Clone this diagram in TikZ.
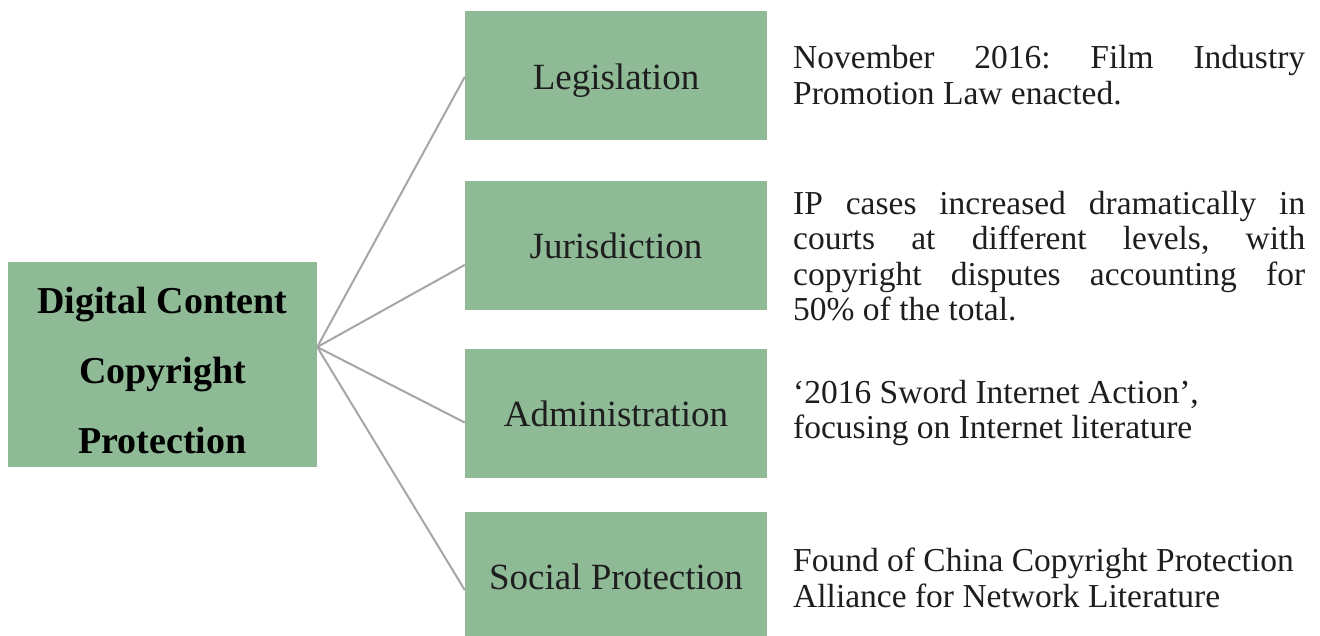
\documentclass[tikz,border=0pt]{standalone}
\usepackage{fontspec}
\setmainfont{Liberation Serif}
\usetikzlibrary{calc}
\definecolor{boxgreen}{RGB}{143,186,150}
\definecolor{linegray}{RGB}{166,166,166}
\definecolor{txt}{RGB}{30,30,30}
\newcommand{\jline}[1]{\hbox to 512pt{#1}}
\begin{document}
\begin{tikzpicture}[x=1pt,y=-1pt,
  mainbox/.style={fill=boxgreen, draw=none, minimum width=309pt, minimum height=205pt, inner sep=0pt, align=center, text=black, font=\fontsize{38}{70}\selectfont\bfseries},
  catbox/.style={fill=boxgreen, draw=none, minimum width=302pt, minimum height=129pt, inner sep=0pt, text=txt, font=\fontsize{37}{40}\selectfont},
  desc/.style={anchor=west, inner sep=0pt, align=left, text=txt, font=\fontsize{33.5}{35.5}\selectfont},
  conn/.style={draw=linegray, line width=2pt}]
\useasboundingbox (0,0) rectangle (1320,635);
\node[mainbox] (main) at (162.5,364.5) {\rule{0pt}{38pt}Digital Content\\Copyright\\Protection};
\node[catbox] (leg) at (616,75.5) {\rule{0pt}{36pt}Legislation};
\node[catbox] (jur) at (616,245.5) {Jurisdiction};
\node[catbox] (adm) at (616,413.5) {Administration};
\node[catbox] (soc) at (616,576.5) {Social Protection};
\node[desc] (d1) at (793,75) {\jline{November\hfill 2016:\hfill Film\hfill Industry}\\Promotion Law enacted.};
\node[desc] (d2) at (793,256) {\jline{IP\hfill cases\hfill increased\hfill dramatically\hfill in}\\\jline{courts\hfill at\hfill different\hfill levels,\hfill with}\\\jline{copyright\hfill disputes\hfill accounting\hfill for}\\50\% of the total.};
\node[desc] (d3) at (793,413) {‘2016 Sword Internet Action’,\\focusing on Internet literature};
\node[desc] (d4) at (793,578) {Found of China Copyright Protection\\Alliance for Network Literature};
\coordinate (hub) at ($(main.north east)!0.415!(main.south east)$);
\draw[conn] (hub) -- ($(leg.north west)!0.51!(leg.south west)$);
\draw[conn] (hub) -- ($(jur.north west)!0.65!(jur.south west)$);
\draw[conn] (hub) -- ($(adm.north west)!0.57!(adm.south west)$);
\draw[conn] (hub) -- ($(soc.north west)!0.605!(soc.south west)$);
\end{tikzpicture}
\end{document}
